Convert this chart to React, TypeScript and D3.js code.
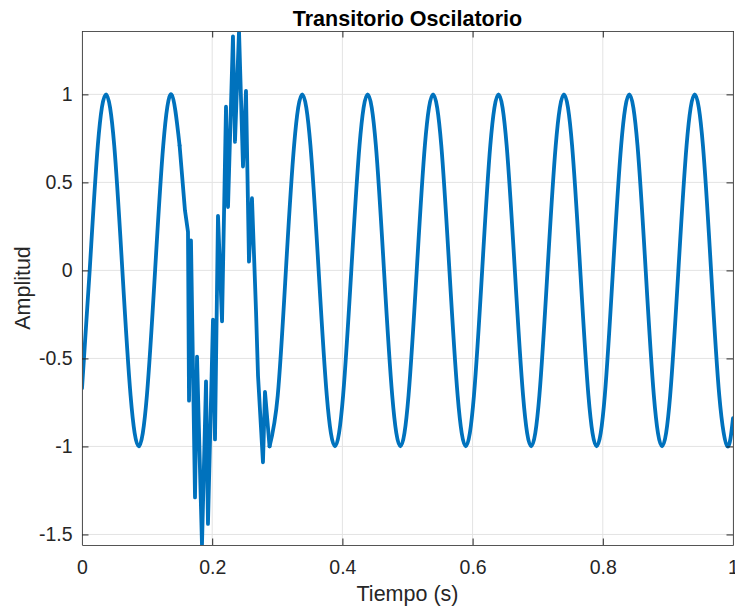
import React, { useEffect, useRef } from "react";
import * as d3 from "d3";

// senal antes del transitorio
const preTime = [0, 0.0118, 0.0243, 0.0369, 0.0495, 0.062, 0.0746, 0.0871, 0.0997, 0.1123, 0.1248, 0.1374, 0.1499];
const preAmp = [-0.67, 0, 0.71, 1, 0.71, 0, -0.71, -1, -0.71, 0, 0.71, 1, 0.71];

// transitorio
const transTime = [0.1499, 0.1582, 0.1628, 0.1644, 0.1674, 0.1736, 0.1767, 0.1843, 0.1905, 0.1935,
  0.2012, 0.2043, 0.2089, 0.2151, 0.2212, 0.2243, 0.2319, 0.235, 0.2412, 0.2473,
  0.2519, 0.2565, 0.2611, 0.2673, 0.2704, 0.278, 0.2811, 0.2881];
const transAmp = [0.71, 0.34, 0.22, -0.74, 0.17, -1.29, -0.49, -1.56, -0.63, -1.44,
  -0.28, -0.96, 0.31, -0.29, 0.93, 0.36, 1.33, 0.73, 1.36, 0.59,
  1.02, 0.05, 0.41, -0.23, -0.6, -1.09, -0.69, -1];

// senal despues del transitorio
const postTime = [0.2881, 0.3007, 0.3132, 0.3258, 0.3383, 0.3509, 0.3635, 0.376,
  0.3886, 0.4011, 0.4137, 0.4263, 0.4388, 0.4514, 0.4639, 0.4765,
  0.4891, 0.5016, 0.5142, 0.5267, 0.5393, 0.5519, 0.5644, 0.577,
  0.5895, 0.6021, 0.6147, 0.6272, 0.6398, 0.6523, 0.6649, 0.6775,
  0.69, 0.7026, 0.7151, 0.7277, 0.7403, 0.7528, 0.7654, 0.7779,
  0.7905, 0.8031, 0.8156, 0.8282, 0.8407, 0.8533, 0.8659, 0.8784,
  0.891, 0.9035, 0.9161, 0.9287, 0.9412, 0.9538, 0.9663, 0.9789,
  0.9915, 1];
const postAmp = [-1, -0.71, 0, 0.71, 1, 0.71, 0, -0.71,
  -1, -0.71, 0, 0.71, 1, 0.71, 0, -0.71,
  -1, -0.71, 0, 0.71, 1, 0.71, 0, -0.71,
  -1, -0.71, 0, 0.71, 1, 0.71, 0, -0.71,
  -1, -0.71, 0, 0.71, 1, 0.71, 0, -0.71,
  -1, -0.71, 0, 0.71, 1, 0.71, 0, -0.71,
  -1, -0.71, 0, 0.71, 1, 0.71, 0, -0.71,
  -1, -0.84];

const xTicks = [0, 0.2, 0.4, 0.6, 0.8, 1];
const yTicks = [-1.5, -1, -0.5, 0, 0.5, 1];

const App = () => {
  const svgRef = useRef<SVGSVGElement>(null);

  useEffect(() => {
    const width = 735, height = 610;
    const margin = { top: 31, right: 2, bottom: 65, left: 82 };
    const svg = d3.select(svgRef.current);
    svg.selectAll("*").remove();

    const font = "'Liberation Sans', Arial, Helvetica, sans-serif";
    const ink = "#262626";

    const allAmp = [...preAmp, ...transAmp, ...postAmp];
    const x = d3.scaleLinear().domain([0, 1]).range([margin.left, width - margin.right]);
    const y = d3.scaleLinear().domain(d3.extent(allAmp) as [number, number]).range([height - margin.bottom, margin.top]);

    // grid
    const grid = svg.append("g").attr("stroke", "#e3e3e3").attr("stroke-width", 1);
    grid.selectAll(".gx").data(xTicks).enter().append("line")
      .attr("x1", (d) => x(d)).attr("x2", (d) => x(d))
      .attr("y1", margin.top).attr("y2", height - margin.bottom);
    grid.selectAll(".gy").data(yTicks).enter().append("line")
      .attr("x1", margin.left).attr("x2", width - margin.right)
      .attr("y1", (d) => y(d)).attr("y2", (d) => y(d));

    // line
    svg.append("clipPath").attr("id", "plotClip").append("rect")
      .attr("x", margin.left).attr("y", margin.top)
      .attr("width", width - margin.left - margin.right)
      .attr("height", height - margin.top - margin.bottom);

    const smooth = d3.line<number>()
      .x((d) => x(d))
      .curve(d3.curveNatural);
    const lineG = svg.append("g").attr("clip-path", "url(#plotClip)")
      .attr("fill", "none").attr("stroke", "#0072BD").attr("stroke-width", 3.8)
      .attr("stroke-linejoin", "round").attr("stroke-linecap", "round");

    lineG.append("path").attr("d", smooth.y((d, i) => y(preAmp[i]))(preTime));
    lineG.append("path").attr("d", d3.line<number>().x((d) => x(d)).y((d, i) => y(transAmp[i]))(transTime));
    lineG.append("path").attr("d", smooth.y((d, i) => y(postAmp[i]))(postTime));

    // axes (ticks inside, box)
    const tick = 6.5;
    const style = (g: any) => {
      g.select(".domain").attr("stroke", "#555").attr("stroke-width", 1);
      g.selectAll(".tick line").attr("stroke", ink);
      g.selectAll("text").attr("fill", ink).attr("font-family", font).attr("font-size", 19.5);
    };

    svg.append("g").attr("transform", `translate(0,${height - margin.bottom})`)
      .call(d3.axisBottom(x).tickValues(xTicks).tickSize(-tick).tickSizeOuter(0).tickPadding(15)
        .tickFormat((d) => String(d)))
      .call(style);
    svg.append("g").attr("transform", `translate(0,${margin.top})`)
      .call(d3.axisTop(x).tickValues(xTicks).tickSize(-tick).tickSizeOuter(0).tickFormat(() => ""))
      .call(style);
    svg.append("g").attr("transform", `translate(${margin.left},0)`)
      .call(d3.axisLeft(y).tickValues(yTicks).tickSize(-tick).tickSizeOuter(0).tickPadding(9.5)
        .tickFormat((d) => String(d)))
      .call(style);
    svg.append("g").attr("transform", `translate(${width - margin.right},0)`)
      .call(d3.axisRight(y).tickValues(yTicks).tickSize(-tick).tickSizeOuter(0).tickFormat(() => ""))
      .call(style);

    // labels
    const cx = (margin.left + width - margin.right) / 2;
    svg.append("text").attr("x", cx).attr("y", 26).attr("text-anchor", "middle")
      .attr("font-family", font).attr("font-size", 21.5).attr("font-weight", "bold").attr("fill", "#000")
      .text("Transitorio Oscilatorio");
    svg.append("text").attr("x", cx).attr("y", 601).attr("text-anchor", "middle")
      .attr("font-family", font).attr("font-size", 21.5).attr("fill", ink)
      .text("Tiempo (s)");
    svg.append("text")
      .attr("transform", `translate(30,${(margin.top + height - margin.bottom) / 2}) rotate(-90)`)
      .attr("text-anchor", "middle")
      .attr("font-family", font).attr("font-size", 21.5).attr("fill", ink)
      .text("Amplitud");
  }, []);

  return (
    <svg ref={svgRef} width={735} height={610}
      style={{ position: "absolute", left: 0, top: 0, background: "#fff" }} />
  );
};

export default App;
